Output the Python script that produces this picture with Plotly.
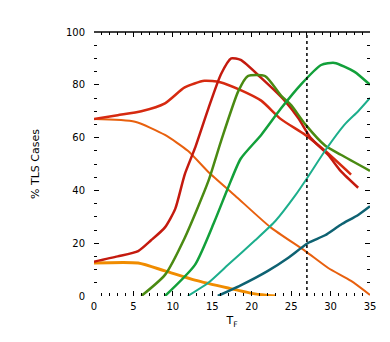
import plotly.graph_objects as go

# Data (x = T_F, y = % cases)
red_peak_x = [0, 3, 5.6, 7.2, 9, 10.3, 11.5, 12.8, 14.5, 16.1, 17.4, 18.6, 21.2, 24.2, 25.9, 27.5, 29.7, 31.3, 33.5]
red_peak_y = [13, 15, 17, 21, 26, 33, 46, 56, 71, 84, 90, 89.4, 82.6, 73.9, 67.4, 59.8, 53.4, 47.3, 41]

red_broad_x = [0, 3, 6, 9, 11.5, 14, 16, 18.6, 21.2, 23.7, 26.8, 29.3, 32.6]
red_broad_y = [67, 68.5, 70, 73, 79, 81.5, 81, 78, 74, 67, 61, 55, 46]

orange_red_x = [0, 5.2, 9, 11.9, 14.5, 17.9, 22.4, 26.8, 29.7, 32.6, 35]
orange_red_y = [67, 66, 61, 55, 47, 38, 26, 17, 10.6, 5.7, 0.4]

orange_x = [0, 5.6, 9, 12.8, 17, 20.4, 23]
orange_y = [12.5, 12.5, 9.5, 6, 3, 0.8, 0]

olive_x = [6, 9, 11.5, 14.5, 16.1, 18.3, 19.5, 21.7, 23.7, 25, 26.8, 29.3, 31.3, 35]
olive_y = [0, 8, 22, 43.5, 58.6, 77.6, 83.3, 83.3, 76, 72.3, 65, 57, 53.5, 47.4]

green_x = [9, 12.8, 15.3, 17, 18.6, 21.2, 23.7, 26.2, 28.8, 30.5, 33, 35]
green_y = [0, 11.8, 28.4, 41, 52, 61, 71, 80, 87.5, 88.3, 85, 80]

teal_x = [11.9, 14.5, 17, 20.4, 23, 25.5, 27.1, 29.3, 31.8, 33.5, 35]
teal_y = [0, 5, 11.8, 21, 28.4, 38, 45, 55, 65, 70, 75]

petrol_x = [15.7, 18.6, 22, 24.6, 27.1, 29.3, 31.3, 33.5, 35]
petrol_y = [0, 4, 9.4, 14.4, 20, 23, 27, 30.7, 34]

x_ticks = [0, 5, 10, 15, 20, 25, 30, 35]
y_ticks = [0, 20, 40, 60, 80, 100]
marker_x = 27

series = [
    (orange_x, orange_y, "#f08c00", 3),
    (orange_red_x, orange_red_y, "#e8600e", 2),
    (red_broad_x, red_broad_y, "#d62a10", 2.5),
    (red_peak_x, red_peak_y, "#c41a0e", 2.5),
    (olive_x, olive_y, "#4a8a12", 2.5),
    (green_x, green_y, "#12a03a", 2.5),
    (teal_x, teal_y, "#1cae8c", 2),
    (petrol_x, petrol_y, "#0e6272", 2.5),
]

fig = go.Figure()
for xs, ys, col, w in series:
    fig.add_trace(go.Scatter(x=xs, y=ys, mode="lines", line=dict(color=col, width=w, shape="spline", smoothing=0.6),
                             showlegend=False, hoverinfo="skip"))

fig.add_shape(type="line", x0=marker_x, x1=marker_x, y0=0, y1=100, xref="x", yref="y",
              line=dict(color="black", width=1.5, dash="dot"))
fig.add_shape(type="line", x0=0, x1=1, y0=1, y1=1, xref="paper", yref="paper",
              line=dict(color="black", width=1.5))

font = dict(family="DejaVu Sans", size=10, color="black")
fig.update_layout(
    width=390, height=342,
    margin=dict(l=86, r=28, t=24, b=54),
    plot_bgcolor="white", paper_bgcolor="white",
    font=font,
    xaxis=dict(range=[0, 35], tickvals=x_ticks, ticks="inside", ticklen=5, tickcolor="black",
               mirror="allticks", showline=False, showgrid=False, zeroline=False,
               ticklabelstandoff=3,
               minor=dict(dtick=1, ticks="inside", ticklen=3, tickcolor="black"),
               title=dict(text="T<sub>F</sub>", standoff=5, font=dict(size=11))),
    yaxis=dict(range=[0, 100], tickvals=y_ticks, ticks="inside", ticklen=5, tickcolor="black",
               mirror="allticks", showline=False, showgrid=False, zeroline=False,
               ticklabelstandoff=8,
               minor=dict(dtick=5, ticks="inside", ticklen=3, tickcolor="black"),
               title=dict(text="% TLS Cases", standoff=24, font=dict(size=11))),
)

fig.write_html("out.html")
